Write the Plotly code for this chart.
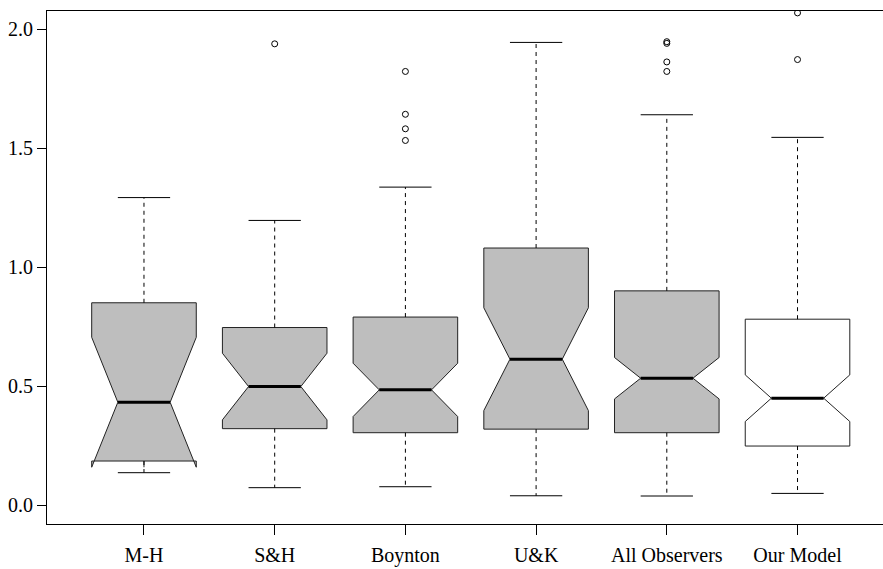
import plotly.graph_objects as go

categories = ["M-H", "S&H", "Boynton", "U&K", "All Observers", "Our Model"]
lower_whisker = [0.137, 0.074, 0.078, 0.040, 0.039, 0.050]
q1 = [0.186, 0.322, 0.305, 0.320, 0.305, 0.249]
median = [0.433, 0.499, 0.485, 0.614, 0.534, 0.450]
q3 = [0.851, 0.747, 0.791, 1.081, 0.901, 0.782]
upper_whisker = [1.293, 1.197, 1.337, 1.945, 1.641, 1.546]
notchspan = [0.273, 0.140, 0.112, 0.216, 0.087, 0.098]
outliers = [
    [],
    [1.939],
    [1.823, 1.643, 1.582, 1.533],
    [],
    [1.948, 1.941, 1.863, 1.823],
    [2.069, 1.873],
]
fills = ["#BEBEBE", "#BEBEBE", "#BEBEBE", "#BEBEBE", "#BEBEBE", "#FFFFFF"]

BOXW = 0.8
positions = list(range(1, len(categories) + 1))

fig = go.Figure()

# whiskers (dashed) and staples
for i, p in enumerate(positions):
    fig.add_trace(go.Scatter(x=[p, p, None, p, p], y=[q3[i], upper_whisker[i], None, q1[i], lower_whisker[i]],
                             mode="lines", line=dict(color="#000000", width=1, dash="4px,4px"),
                             hoverinfo="skip", showlegend=False))
    fig.add_trace(go.Scatter(x=[p - BOXW / 4, p + BOXW / 4, None, p - BOXW / 4, p + BOXW / 4],
                             y=[upper_whisker[i], upper_whisker[i], None, lower_whisker[i], lower_whisker[i]],
                             mode="lines", line=dict(color="#000000", width=1),
                             hoverinfo="skip", showlegend=False))

# notched boxes
for i, p in enumerate(positions):
    fig.add_trace(go.Box(x=[p], q1=[q1[i]], median=[median[i]], q3=[q3[i]],
                         lowerfence=[q1[i]], upperfence=[q3[i]], notchspan=[notchspan[i]],
                         notched=True, notchwidth=0.25, whiskerwidth=0, width=BOXW,
                         fillcolor=fills[i], line=dict(color="#222222", width=1),
                         boxpoints=False, hoverinfo="skip", showlegend=False))

# thick medians
for i, p in enumerate(positions):
    fig.add_trace(go.Scatter(x=[p - BOXW / 4, p + BOXW / 4], y=[median[i], median[i]],
                             mode="lines", line=dict(color="#000000", width=3),
                             hoverinfo="skip", showlegend=False))

# outliers
ox, oy = [], []
for i, p in enumerate(positions):
    for v in outliers[i]:
        ox.append(p)
        oy.append(v)
fig.add_trace(go.Scatter(x=ox, y=oy, mode="markers",
                         marker=dict(symbol="circle-open", size=6, color="#000000", line=dict(width=1)),
                         hoverinfo="skip", showlegend=False, cliponaxis=True))

font = dict(family="Liberation Serif, Times New Roman, serif", size=20, color="#000000")
fig.update_layout(
    width=883, height=569,
    margin=dict(l=47, r=0, t=11, b=45, autoexpand=False),
    paper_bgcolor="white", plot_bgcolor="white",
    font=font, showlegend=False,
    xaxis=dict(range=[0.258, 6.654], tickmode="array", tickvals=positions, ticktext=categories,
               showgrid=False, zeroline=False, showline=True, mirror=True, linecolor="#000000",
               linewidth=1, ticks="outside", ticklen=10, tickcolor="#000000", tickfont=font,
               ticklabelstandoff=3, automargin=False),
    yaxis=dict(range=[-0.0786, 2.077], tickmode="array", tickvals=[0, 0.5, 1.0, 1.5, 2.0],
               ticktext=["0.0", "0.5", "1.0", "1.5", "2.0"],
               showgrid=False, zeroline=False, showline=True, mirror=False, linecolor="#000000",
               linewidth=1, ticks="outside", ticklen=9, tickcolor="#000000", tickfont=font,
               ticklabelstandoff=0, automargin=False),
)

fig.write_html("out.html", config={"displayModeBar": False},
               post_script="document.body.style.margin='0';document.body.style.padding='0';"
                           "document.body.style.overflow='hidden';")
